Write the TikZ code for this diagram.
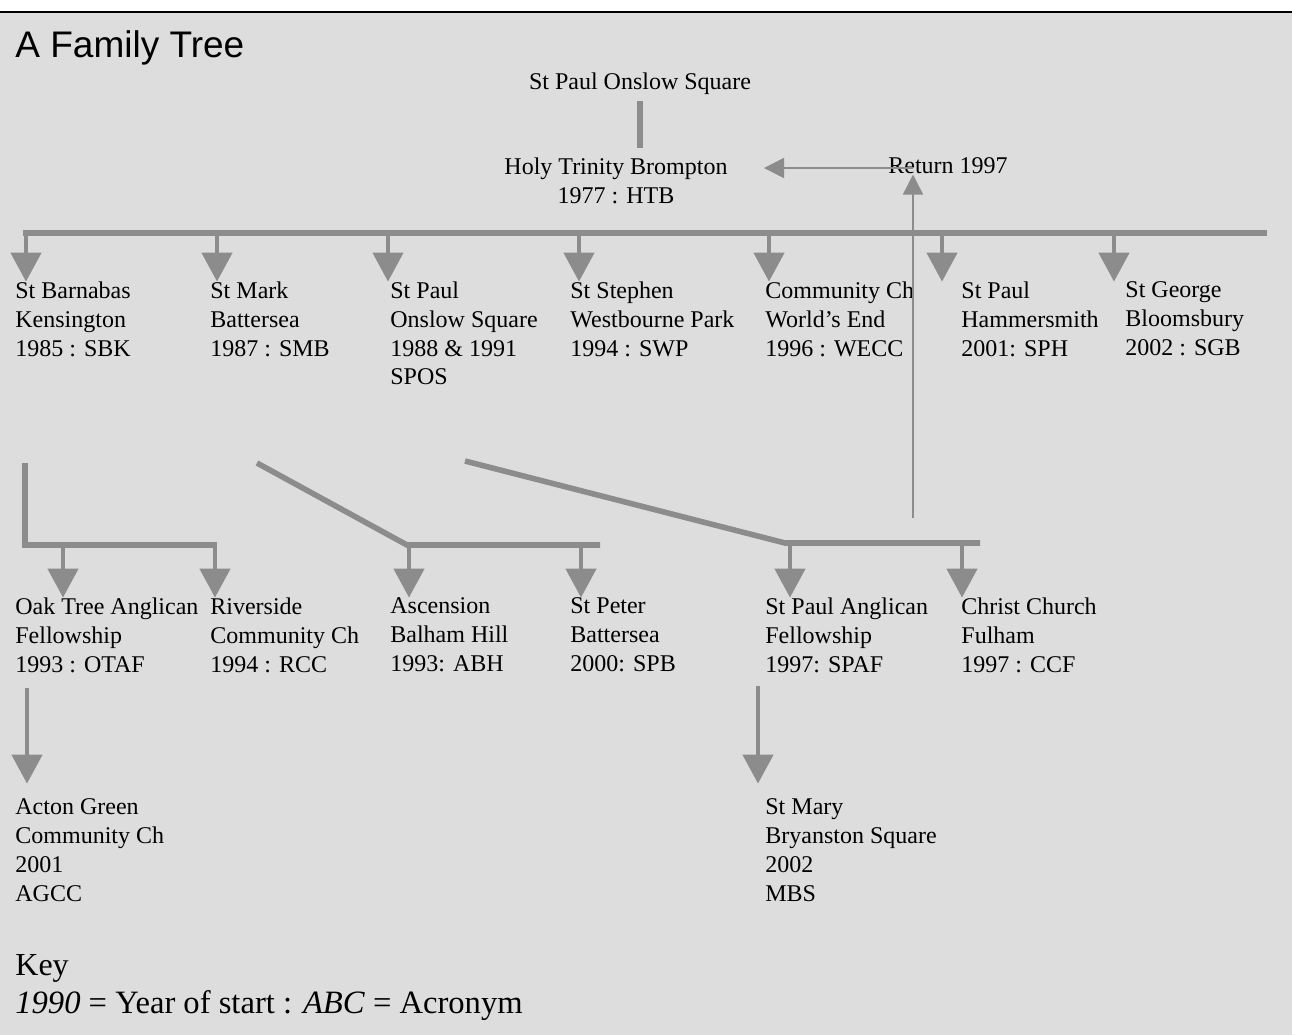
\documentclass[tikz,border=0pt]{standalone}
\usepackage{fontspec}
\setmainfont{Liberation Serif}
\newfontfamily\headfont{Liberation Sans}
\usepackage{tikz}
\usetikzlibrary{arrows.meta,positioning}
\definecolor{paper}{HTML}{DDDDDD}
\definecolor{link}{HTML}{8C8C8C}

\begin{document}
\begin{tikzpicture}[x=0.5pt, y=-0.5pt]
\tikzstyle{ch}=[anchor=north west, align=left, inner sep=0pt,
                        font=\fontsize{12}{14.35}\selectfont]
\tikzstyle{hd}=[anchor=north, align=center, inner sep=0pt,
                        font=\fontsize{12}{14.35}\selectfont]
\tikzstyle{bus}=[draw=link, line width=2.8pt]
\tikzstyle{tap}=[draw=link, line width=2.3pt, -{Triangle[length=14.5pt, width=15pt]}]
\tikzstyle{back}=[draw=link, line width=0.75pt, -{Triangle[length=10pt, width=10pt]}]
\useasboundingbox (0,0) rectangle (1292,1035);
\fill[paper] (0,12) rectangle (1292,1035);
\draw[line width=0.8pt] (0,12) -- (1292,12);
\node[anchor=base west, inner sep=0pt, font=\headfont\fontsize{18.5}{22}\selectfont] (title) at (15,57) {A Family Tree};
% top of the tree
\node[hd] (root) at (640,72.6) {St Paul Onslow Square};
\node[hd] (htb) at (616,157.6) {Holy Trinity Brompton\\1977 : HTB};
\node[hd] (ret) at (948,157.6) {Return 1997};
\draw[bus, shorten <=3pt, shorten >=5pt] (root.south) -- (root.south |- htb.north);
% first generation
\foreach \n/\x/\t in {sbk/15/{St Barnabas\\Kensington\\1985 : SBK},
  smb/210/{St Mark\\Battersea\\1987 : SMB},
  spos/390/{St Paul\\Onslow Square\\1988 \& 1991\\SPOS},
  swp/570/{St Stephen\\Westbourne Park\\1994 : SWP},
  wecc/765/{Community Ch\\World's End\\1996 : WECC},
  sph/961/{St Paul\\Hammersmith\\2001: SPH},
  sgb/1125/{St George\\Bloomsbury\\2002 : SGB}}{\node[ch] (\n) at (\x,281.6) {\t};}
\draw[bus] (23,233) -- (1267,233);
\foreach \n/\x in {sbk/26,smb/217,spos/388,swp/579,wecc/769,sph/942,sgb/1114}{\coordinate (b\n) at (\x,233); \draw[tap] (b\n) -- (b\n |- \n.north);}
% second generation
\foreach \n/\x/\t in {otaf/15/{Oak Tree Anglican\\Fellowship\\1993 : OTAF},
  rcc/210/{Riverside\\Community Ch\\1994 : RCC},
  abh/390/{Ascension\\Balham Hill\\1993: ABH},
  spb/570/{St Peter\\Battersea\\2000: SPB},
  spaf/765/{St Paul Anglican\\Fellowship\\1997: SPAF},
  ccf/961/{Christ Church\\Fulham\\1997 : CCF}}{\node[ch] (\n) at (\x,597.6) {\t};}
\coordinate (k1) at (25,463);
\coordinate (k2) at (257,463);
\coordinate (k3) at (465,461);
\draw[bus] (k1) -- (25,545) -- (217,545);
\draw[bus] (k2) -- (407,545) -- (600,545);
\draw[bus] (k3) -- (785,543) -- (980,543);
\foreach \n/\x/\y in {otaf/63/545,rcc/215/545,abh/409/545,spb/581/545,spaf/790/543,ccf/962/543}{\coordinate (b\n) at (\x,\y); \draw[tap] (b\n) -- (b\n |- \n.north);}
% return to HTB
\coordinate (rb) at (913,518);
\coordinate (rj) at (913,168);
\coordinate (rt) at (764,168);
\draw[back] (rb) -- (rb |- ret.south);
\draw[back] (rj) -- (rt);
% third generation
\node[ch] (agcc) at (15,798.6) {Acton Green\\Community Ch\\2001\\AGCC};
\node[ch] (mbs) at (765,798.6) {St Mary\\Bryanston Square\\2002\\MBS};
\coordinate (d1) at (27,688);
\coordinate (d2) at (758,686);
\draw[tap, shorten >=7.5pt] (d1) -- (d1 |- agcc.north);
\draw[tap, shorten >=7.5pt] (d2) -- (d2 |- mbs.north);
% key
\node[anchor=base west, inner sep=0pt, font=\fontsize{16}{19}\selectfont] (key) at (15,975) {Key};
\node[anchor=base west, inner sep=0pt, font=\fontsize{16.3}{19}\selectfont] (legend) at (15,1013) {\textit{1990} = Year of start : \textit{ABC} = Acronym};
\end{tikzpicture}
\end{document}
